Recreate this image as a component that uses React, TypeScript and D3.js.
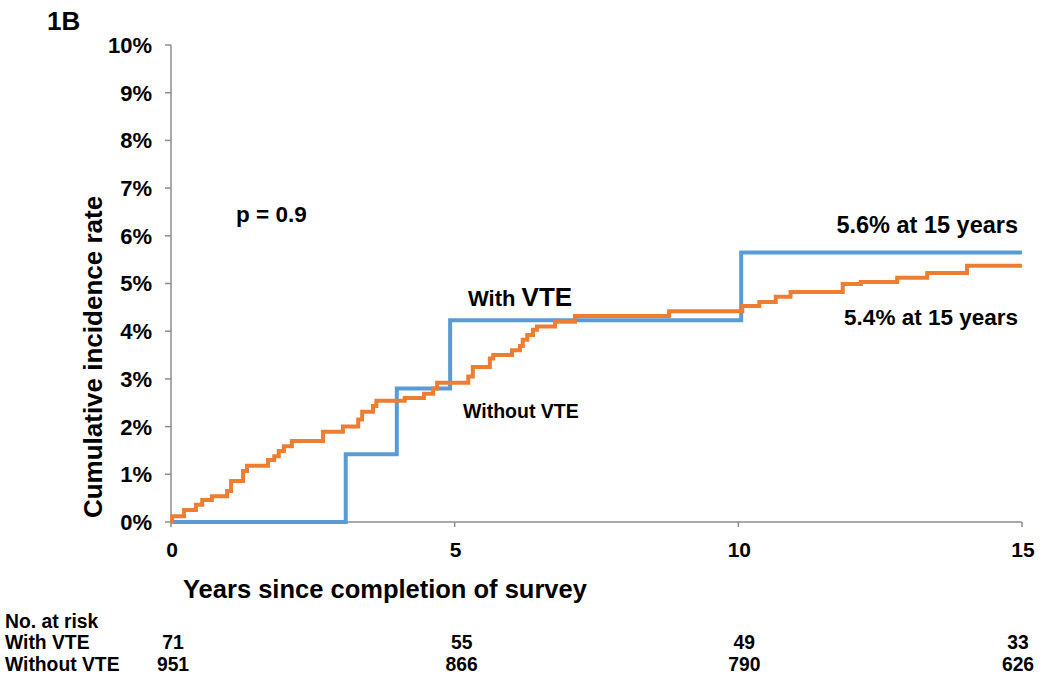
import React from "react";
import * as d3 from "d3";

const yTicks = [0, 1, 2, 3, 4, 5, 6, 7, 8, 9, 10];
const xTicks = [0, 5, 10, 15];

const withVteTimes = [0, 3.08, 3.98, 4.92, 10.05, 15];
const withVteRates = [0, 1.42, 2.8, 4.23, 5.65, 5.65];

const withoutVteTimes = [
  0, 0.02, 0.23, 0.44, 0.55, 0.72, 0.99, 1.06, 1.27, 1.34, 1.71, 1.82, 1.9, 1.99, 2.13,
  2.68, 3.03, 3.3, 3.37, 3.56, 3.62, 4.12, 4.46, 4.62, 4.69, 5.24, 5.32, 5.62, 5.68,
  6.01, 6.15, 6.2, 6.28, 6.38, 6.45, 6.77, 7.12, 8.78, 10.07, 10.37, 10.66, 10.92,
  11.84, 12.16, 12.8, 13.33, 14.03, 15,
];
const withoutVteRates = [
  0, 0.12, 0.25, 0.36, 0.46, 0.54, 0.65, 0.86, 1.07, 1.18, 1.3, 1.38, 1.49, 1.59, 1.7,
  1.89, 2.0, 2.15, 2.31, 2.43, 2.54, 2.6, 2.69, 2.8, 2.92, 3.05, 3.25, 3.43, 3.5,
  3.6, 3.69, 3.82, 3.92, 4.03, 4.1, 4.2, 4.32, 4.42, 4.53, 4.61, 4.72, 4.82,
  4.99, 5.03, 5.12, 5.22, 5.37, 5.37,
];

const riskYears = [0, 5, 10, 15];
const riskWith = [71, 55, 49, 33];
const riskWithout = [951, 866, 790, 626];
const riskRowLabels = ["No. at risk", "With VTE", "Without VTE"];

const BLUE = "#5B9BD5";
const ORANGE = "#ED7D31";
const AXIS = "#8c8c8c";
const FONT = "'Liberation Sans', Arial, sans-serif";

export default function App() {
  const x = d3.scaleLinear().domain([0, 15]).range([171, 1022]);
  const y = d3.scaleLinear().domain([0, 10]).range([522, 45]);

  const line = d3
    .line<[number, number]>()
    .x((d) => x(d[0]))
    .y((d) => y(d[1]))
    .curve(d3.curveStepAfter);

  const withPts = withVteTimes.map((t, i) => [t, withVteRates[i]] as [number, number]);
  const withoutPts = withoutVteTimes.map((t, i) => [t, withoutVteRates[i]] as [number, number]);

  const rowY = [628, 649, 671];
  const colShift = [2, 7, 6, -4];
  const NarrowText = ({ px, py, anchor, children }: any) => (
    <text
      transform={`translate(${px},${py}) scale(0.92,1)`}
      textAnchor={anchor || "start"}
      fontSize={21}
    >
      {children}
    </text>
  );

  return (
    <svg
      width={1050}
      height={680}
      style={{ position: "absolute", left: 0, top: 0, background: "#fff" }}
      fontFamily={FONT}
      fontWeight="bold"
    >
      <rect width={1050} height={680} fill="#fff" />
      <text x={47} y={30} fontSize={26}>1B</text>

      {/* y axis */}
      <line x1={x(0)} x2={x(0)} y1={y(10)} y2={y(0)} stroke={AXIS} strokeWidth={1.5} />
      {yTicks.map((t) => (
        <g key={t}>
          <line x1={x(0) - 6} x2={x(0)} y1={y(t)} y2={y(t)} stroke={AXIS} strokeWidth={1.5} />
          <text x={152} y={y(t)} dy="0.36em" textAnchor="end" fontSize={22}>
            {t}%
          </text>
        </g>
      ))}
      {/* x axis */}
      <line x1={x(0)} x2={x(15)} y1={y(0)} y2={y(0)} stroke={AXIS} strokeWidth={1.5} />
      {xTicks.map((t) => (
        <g key={t}>
          <line x1={x(t)} x2={x(t)} y1={y(0)} y2={y(0) + 5} stroke={AXIS} strokeWidth={1.5} />
          <text x={x(t) + 1} y={557} textAnchor="middle" fontSize={21}>
            {t}
          </text>
        </g>
      ))}

      <text transform={`translate(102, 357) rotate(-90)`} textAnchor="middle" fontSize={26}>
        Cumulative incidence rate
      </text>
      <text x={183} y={598} fontSize={25.5}>Years since completion of survey</text>

      {/* curves */}
      <path d={line(withPts) || ""} fill="none" stroke={BLUE} strokeWidth={4} />
      <path d={line(withoutPts) || ""} fill="none" stroke={ORANGE} strokeWidth={4} />

      {/* annotations */}
      <text x={236} y={222} fontSize={22.5}>p = 0.9</text>
      <text x={1018} y={233} fontSize={23.5} textAnchor="end">5.6% at 15 years</text>
      <text x={1018} y={325} fontSize={22.5} textAnchor="end">5.4% at 15 years</text>
      <text x={468} y={306}>
        <tspan fontSize={22}>With </tspan>
        <tspan fontSize={26}>VTE</tspan>
      </text>
      <text x={463} y={418} fontSize={19.5}>Without VTE</text>

      {/* risk table */}
      <g>
        {riskRowLabels.map((lab, i) => (
          <NarrowText key={lab} px={5} py={rowY[i]}>
            {lab}
          </NarrowText>
        ))}
        {riskYears.map((t, i) => (
          <g key={t}>
            <NarrowText px={x(t) + colShift[i]} py={rowY[1]} anchor="middle">
              {riskWith[i]}
            </NarrowText>
            <NarrowText px={x(t) + colShift[i]} py={rowY[2]} anchor="middle">
              {riskWithout[i]}
            </NarrowText>
          </g>
        ))}
      </g>
    </svg>
  );
}
